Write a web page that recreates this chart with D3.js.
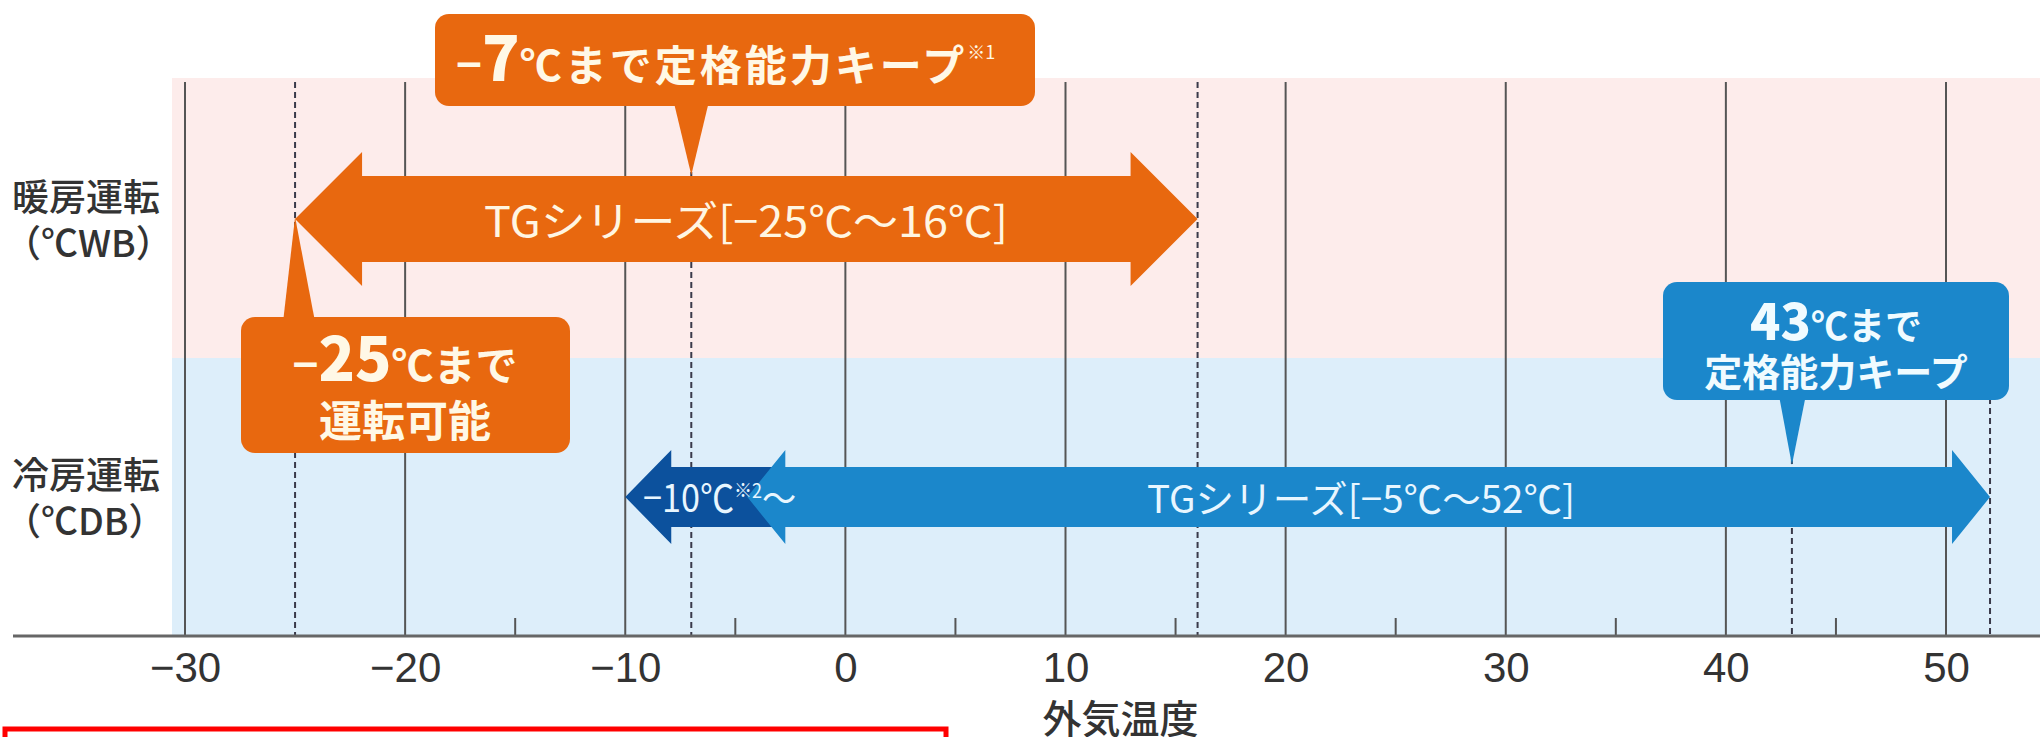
<!DOCTYPE html>
<html>
<head>
<meta charset="utf-8">
<script src="https://cdn.jsdelivr.net/npm/d3@7"></script>
<style>
    body { margin: 0; background: #fff; }
    svg { display: block; }
    text { font-family: "Noto Sans CJK JP", "Noto Sans", sans-serif; }
</style>
</head>
<body>
<svg id="chart" width="2040" height="737"></svg>
<script>
// -----
// DATA
// -----
const majorTicks = [-30, -20, -10, 0, 10, 20, 30, 40, 50];
const minorTicks = [-15, -5, 5, 15, 25, 35, 45];
const modes = ["暖房運転", "冷房運転"];
const modeUnits = ["（℃WB）", "（℃DB）"];
const dashedHeat = [-25, -7, 16];   // full height
const dashedCool = [43, 52];        // cooling band only
const heatRange = [-25, 16];
const coolRange = [-5, 52];
const coolLow = -10;
const heatKeep = -7;
const coolKeep = 43;
const xTitle = "外気温度";

const colors = {
    heatBg: "#fdeceb",
    coolBg: "#ddeefa",
    orange: "#e8680f",
    blue: "#1b87cb",
    darkBlue: "#0c519d",
    grid: "#555",
    text: "#333"
};

// -----
// SCALES
// -----
const svg = d3.select("#chart");
const x = d3.scaleLinear().domain([-30, 50]).range([185, 1946]);
const y = d3.scaleBand().domain(modes).range([80, 636]);
const axisY = 636;
const cy = m => y(m) + y.bandwidth() / 2;
const fmt = d => d < 0 ? "−" + Math.abs(d) : String(d);

// backgrounds
svg.append("g")
    .selectAll("rect")
    .data(modes)
    .join("rect")
    .attr("x", x(-30) - 13)
    .attr("y", d => y(d) - (d === modes[0] ? 2 : 0))
    .attr("width", 2040 - x(-30) + 13)
    .attr("height", d => y.bandwidth() + (d === modes[0] ? 2 : 0))
    .attr("fill", (d, i) => i === 0 ? colors.heatBg : colors.coolBg);

// grid
const grid = svg.append("g");
grid.selectAll(".major")
    .data(majorTicks)
    .join("line")
    .attr("class", "major")
    .attr("x1", d => x(d)).attr("x2", d => x(d))
    .attr("y1", y(modes[0]) + 2).attr("y2", axisY)
    .attr("stroke", colors.grid)
    .attr("stroke-width", 2);

grid.selectAll(".dash-heat")
    .data(dashedHeat)
    .join("line")
    .attr("class", "dash-heat")
    .attr("x1", d => x(d)).attr("x2", d => x(d))
    .attr("y1", y(modes[0]) + 2).attr("y2", axisY)
    .attr("stroke", "#3a3a4a")
    .attr("stroke-width", 2)
    .attr("stroke-dasharray", "6,4");

grid.selectAll(".dash-cool")
    .data(dashedCool)
    .join("line")
    .attr("class", "dash-cool")
    .attr("x1", d => x(d)).attr("x2", d => x(d))
    .attr("y1", y(modes[1])).attr("y2", axisY)
    .attr("stroke", "#3a3a4a")
    .attr("stroke-width", 2)
    .attr("stroke-dasharray", "6,4");

grid.selectAll(".minor")
    .data(minorTicks)
    .join("line")
    .attr("class", "minor")
    .attr("x1", d => x(d)).attr("x2", d => x(d))
    .attr("y1", axisY - 18).attr("y2", axisY)
    .attr("stroke", colors.grid)
    .attr("stroke-width", 2);

// x axis
const axis = svg.append("g")
    .attr("transform", `translate(0,${axisY})`)
    .call(d3.axisBottom(x).tickValues(majorTicks).tickSize(0).tickFormat(fmt));
axis.select(".domain").remove();
axis.selectAll("text")
    .attr("y", 46)
    .attr("dy", 0)
    .attr("fill", colors.text)
    .style("font-family", "'Liberation Sans', Arial, sans-serif")
    .style("font-size", "42px");

svg.append("line")
    .attr("x1", 13).attr("x2", 2040)
    .attr("y1", axisY).attr("y2", axisY)
    .attr("stroke", "#666")
    .attr("stroke-width", 3);

svg.append("text")
    .attr("x", x(12.5))
    .attr("y", 733)
    .attr("text-anchor", "middle")
    .attr("fill", colors.text)
    .style("font-size", "39px")
    .style("font-weight", 500)
    .text(xTitle);

// row labels
const rows = svg.append("g")
    .selectAll("text")
    .data(modes)
    .join("text")
    .attr("x", 12)
    .attr("fill", colors.text)
    .style("font-size", "37px")
    .style("font-weight", 500);
rows.append("tspan").attr("x", 12).attr("y", d => cy(d) - 8).text(d => d);
rows.append("tspan").attr("x", 4).attr("y", d => cy(d) + 38).text((d, i) => modeUnits[i]);

// -----
// ARROWS
// -----
function arrowPath(x0, x1, c, bh, hh, hl, leftHead = true, rightHead = true) {
    const p = [];
    if (leftHead) p.push([x0, c], [x0 + hl, c - hh], [x0 + hl, c - bh]);
    else p.push([x0, c + bh], [x0, c - bh]);
    if (rightHead) p.push([x1 - hl, c - bh], [x1 - hl, c - hh], [x1, c], [x1 - hl, c + hh], [x1 - hl, c + bh]);
    else p.push([x1, c - bh], [x1, c + bh]);
    if (leftHead) p.push([x0 + hl, c + bh], [x0 + hl, c + hh]);
    return d3.line()(p) + "Z";
}

const arrows = svg.append("g");
const hc = cy(modes[0]);
const cc = cy(modes[1]);

arrows.append("path")
    .attr("d", arrowPath(x(heatRange[0]), x(heatRange[1]), hc, 43, 67, 67))
    .attr("fill", colors.orange);

arrows.append("path")
    .attr("d", arrowPath(x(coolLow), x(coolRange[0]) + 60, cc, 30, 47, 46, true, false))
    .attr("fill", colors.darkBlue);

arrows.append("path")
    .attr("d", arrowPath(x(coolRange[0]) + 12, x(coolRange[1]), cc, 30, 47, 38))
    .attr("fill", colors.blue);

// arrow labels
arrows.append("text")
    .attr("x", 484).attr("y", hc + 18)
    .attr("textLength", 524)
    .attr("lengthAdjust", "spacingAndGlyphs")
    .attr("fill", "#fff6e2")
    .style("font-size", "42px")
    .text(`TGシリーズ[${fmt(heatRange[0])}℃～${fmt(heatRange[1])}℃]`);

arrows.append("text")
    .attr("x", 1147).attr("y", cc + 16)
    .attr("textLength", 428)
    .attr("lengthAdjust", "spacingAndGlyphs")
    .attr("fill", "#e8f6ff")
    .style("font-size", "38px")
    .text(`TGシリーズ[${fmt(coolRange[0])}℃～${fmt(coolRange[1])}℃]`);

const low = arrows.append("text")
    .attr("transform", `translate(643,${cc + 15}) scale(0.9,1)`)
    .attr("fill", "#e8f6ff")
    .style("font-size", "38px");
low.append("tspan").text(`${fmt(coolLow)}℃`);
low.append("tspan").attr("dy", -14).style("font-size", "20px").text("※2");
low.append("tspan").attr("dy", 14).text("～");

// -----
// CALLOUTS
// -----
function callout(g, bx, by, bw, bh, tipX, tipY, baseL, baseR, baseY, fill) {
    g.append("path")
        .attr("d", d3.line()([[baseL, baseY], [tipX, tipY], [baseR, baseY]]) + "Z")
        .attr("fill", fill);
    g.append("rect")
        .attr("x", bx).attr("y", by)
        .attr("width", bw).attr("height", bh)
        .attr("rx", 14)
        .attr("fill", fill);
}

// -7 keep
const c1 = svg.append("g");
callout(c1, 435, 14, 600, 92, x(heatKeep), hc - 44, x(heatKeep) - 18, x(heatKeep) + 18, 100, colors.orange);
const t1 = c1.append("text")
    .attr("x", 456).attr("y", 81)
    .attr("fill", "#fff8e6")
    .style("font-weight", 700);
t1.append("tspan").style("font-size", "44px").text("−");
t1.append("tspan").style("font-size", "62px").style("font-weight", 900).text(Math.abs(heatKeep));
t1.append("tspan").style("font-size", "42px").style("letter-spacing", "3px").text("℃まで定格能力キープ");
t1.append("tspan").attr("dy", -22).style("font-size", "18px").style("font-weight", 400).text("※1");

// -25 operation
const c2 = svg.append("g");
callout(c2, 241, 317, 329, 136, x(heatRange[0]), hc - 2, x(heatRange[0]) - 12, x(heatRange[0]) + 20, 322, colors.orange);
const t2 = c2.append("text")
    .attr("x", 405).attr("y", 381)
    .attr("text-anchor", "middle")
    .attr("fill", "#fff8e6")
    .style("font-weight", 700);
t2.append("tspan").style("font-size", "44px").text("−");
t2.append("tspan").style("font-size", "60px").style("font-weight", 900).text(Math.abs(heatRange[0]));
t2.append("tspan").style("font-size", "42px").text("℃まで");
c2.append("text")
    .attr("x", 405).attr("y", 437)
    .attr("text-anchor", "middle")
    .attr("fill", "#fff8e6")
    .style("font-size", "43px")
    .style("font-weight", 700)
    .text("運転可能");

// 43 keep
const c3 = svg.append("g");
callout(c3, 1663, 282, 346, 118, x(coolKeep), cc - 32, x(coolKeep) - 13, x(coolKeep) + 14, 395, colors.blue);
const t3 = c3.append("text")
    .attr("x", 1836).attr("y", 340)
    .attr("text-anchor", "middle")
    .attr("fill", "#f0fbff")
    .style("font-weight", 700);
t3.append("tspan").style("font-size", "50px").style("font-weight", 900).text(coolKeep);
t3.append("tspan").style("font-size", "37px").text("℃まで");
c3.append("text")
    .attr("x", 1836).attr("y", 386)
    .attr("text-anchor", "middle")
    .attr("fill", "#f0fbff")
    .style("font-size", "38px")
    .style("font-weight", 700)
    .text("定格能力キープ");

// red frame
svg.append("rect")
    .attr("x", 5).attr("y", 729)
    .attr("width", 941).attr("height", 40)
    .attr("fill", "none")
    .attr("stroke", "#f00")
    .attr("stroke-width", 5);
</script>
</body>
</html>
